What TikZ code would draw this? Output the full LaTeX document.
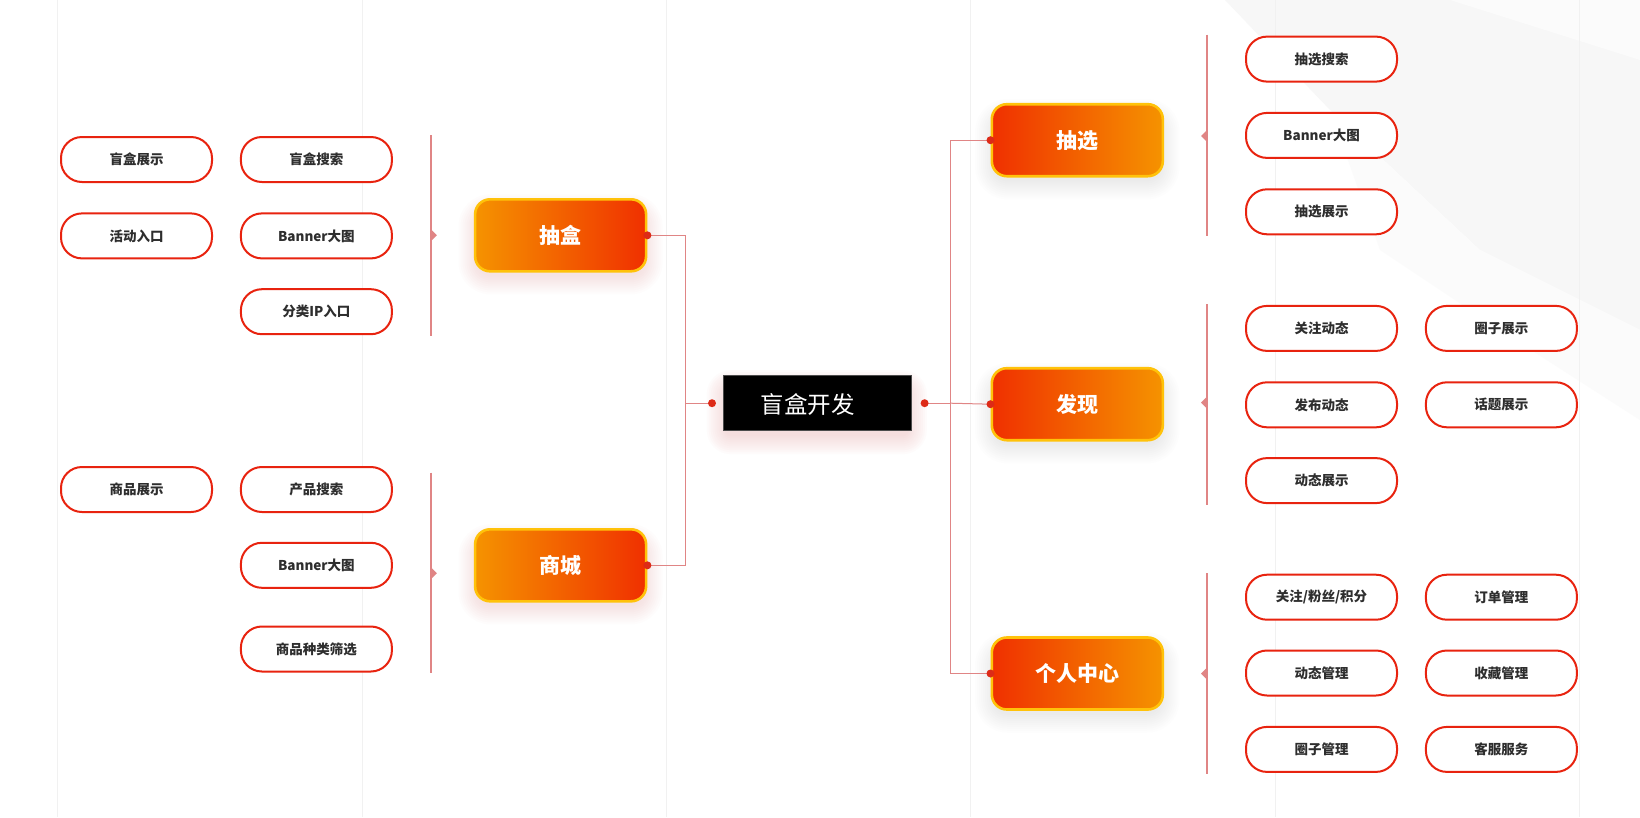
\documentclass[tikz,border=0pt]{standalone}
\usepackage{fontspec}
\setmainfont{Noto Sans CJK SC}
\usetikzlibrary{calc}
\definecolor{boxred}{HTML}{E8230F}
\definecolor{txtdark}{HTML}{2E2E2E}
\definecolor{connline}{HTML}{E08585}
\definecolor{dotred}{HTML}{DD2A17}
\definecolor{gradorange}{HTML}{F59300}
\definecolor{gradred}{HTML}{F03000}
\definecolor{goldedge}{HTML}{FFC20A}
\definecolor{gridgrey}{HTML}{F1F1F1}
\definecolor{glowpink}{HTML}{F3A0A0}
\definecolor{glowgrey}{HTML}{C0C0C0}
\definecolor{bgA}{HTML}{F7F7F7}
\definecolor{bgB}{HTML}{FBFBFB}
\tikzset{
  leaf/.style={draw=boxred, line width=2pt, fill=white, rounded corners=21pt,
    minimum width=151pt, minimum height=45pt, inner sep=0pt,
    font=\bfseries\fontsize{13.5}{16}\selectfont, text=txtdark},
  mainL/.style={draw=goldedge, line width=2.6pt, rounded corners=15pt,
    left color=gradorange, right color=gradred,
    minimum width=171pt, minimum height=72pt, inner sep=0pt,
    font=\bfseries\fontsize{21}{24}\selectfont, text=white},
  mainR/.style={mainL, left color=gradred, right color=gradorange},
  rootbox/.style={fill=black, draw=black!70, line width=0.6pt,
    minimum width=188pt, minimum height=55pt, inner sep=0pt},
  conn/.style={draw=connline, line width=1pt},
  vbar/.style={draw=connline, line width=1.2pt},
  tick/.style={fill=connline},
  dot/.style={fill=dotred},
}
\begin{document}
\begin{tikzpicture}[x=1pt,y=-1pt]
\useasboundingbox (0,0) rectangle (1640,817);
\fill[white] (0,0) rectangle (1640,817);
% faint background shapes (top right)
\fill[bgA] (1225,0) -- (1550,0) -- (1640,60) -- (1640,330) -- (1480,250) -- (1330,110) -- cycle;
\fill[bgB] (1450,0) -- (1640,0) -- (1640,60) -- cycle;
\fill[bgB] (1330,110) -- (1480,250) -- (1640,330) -- (1640,420) -- (1500,330) -- (1380,250) -- cycle;
% faint vertical grid lines
\foreach \gx in {57.5,361.9,666.2,970.6,1275,1579.3}
  \draw[gridgrey, line width=0.8pt] (\gx,0) -- (\gx,817);

% soft glows under main boxes
\foreach \cx/\cy/\gc in {560.6/235.3/glowpink, 560.6/565.3/glowpink, 1077.3/140.2/glowgrey, 1077.3/404.2/glowgrey, 1077.3/673.5/glowgrey}{
  \foreach \e in {2,4,...,20}
    \fill[\gc, opacity=0.028]
      (\cx-82-\e,\cy-30+9-\e) [rounded corners=12pt+\e] rectangle (\cx+82+\e,\cy+30+9+\e);
}
\foreach \e in {2,4,...,20}
  \fill[glowpink, opacity=0.035, rounded corners=4pt+\e]
    (816.8-90-\e,403.2-22+9-\e) rectangle (816.8+90+\e,403.2+22+9+\e);

% root
\node[rootbox] (root) at (816.8,403.2) {};
\node[font=\fontsize{23.5}{26}\selectfont, text=white, inner sep=0pt] (roottxt) at (807.5,404.5) {盲盒开发};

% main boxes
\node[mainL] (chouhe) at (560.6,235.3) {抽盒};
\node[mainL] (shangcheng) at (560.6,565.3) {商城};
\node[mainR] (chouxuan) at (1077.3,140.2) {抽选};
\node[mainR] (faxian) at (1077.3,404.2) {发现};
\node[mainR] (geren) at (1077.3,673.5) {个人中心};

% connector coordinates
\coordinate (cl) at ($(root.west)+(-10.5,0)$);
\coordinate (cr) at ($(root.east)+(13.5,0)$);
\coordinate (jl) at (685,403.2);
\coordinate (jr) at (950.7,403.2);

\draw[conn] (chouhe.east) -| (jl) |- (shangcheng.east);
\draw[conn] (cl) -- (jl);
\draw[conn] (cr) -- (jr);
\draw[conn] (chouxuan.west) -| (jr) |- (geren.west);
\draw[conn] (jr) -- (faxian.west);

\foreach \p in {chouhe.east, shangcheng.east, chouxuan.west, faxian.west, geren.west, cl, cr}
  \fill[dot] (\p) circle (4pt);

% left leaves
\node[leaf] (a1) at (136.5,159.5) {盲盒展示};
\node[leaf] (a2) at (136.5,235.9) {活动入口};
\node[leaf] (b1) at (316.4,159.5) {盲盒搜索};
\node[leaf] (b2) at (316.4,235.9) {Banner大图};
\node[leaf] (b3) at (316.4,311.7) {分类IP入口};
\node[leaf] (a4) at (136.5,489.5) {商品展示};
\node[leaf] (b4) at (316.4,489.5) {产品搜索};
\node[leaf] (b5) at (316.4,565.3) {Banner大图};
\node[leaf] (b6) at (316.4,649) {商品种类筛选};

% right leaves
\node[leaf] (c1) at (1321.5,59.1) {抽选搜索};
\node[leaf] (c2) at (1321.5,135.4) {Banner大图};
\node[leaf] (c3) at (1321.5,211.8) {抽选展示};
\node[leaf] (c4) at (1321.5,328.4) {关注动态};
\node[leaf] (d4) at (1501.4,328.4) {圈子展示};
\node[leaf] (c5) at (1321.5,404.8) {发布动态};
\node[leaf] (d5) at (1501.4,404.8) {话题展示};
\node[leaf] (c6) at (1321.5,480.6) {动态展示};
\node[leaf] (c7) at (1321.5,597.2) {关注/粉丝/积分};
\node[leaf] (d7) at (1501.4,597.2) {订单管理};
\node[leaf] (c8) at (1321.5,673) {动态管理};
\node[leaf] (d8) at (1501.4,673) {收藏管理};
\node[leaf] (c9) at (1321.5,749.4) {圈子管理};
\node[leaf] (d9) at (1501.4,749.4) {客服服务};

% bracket bars with ticks
\coordinate (vl1t) at (430.9,135); \coordinate (vl1b) at (430.9,335.7); \coordinate (vl1m) at (430.9,235.3);
\coordinate (vl2t) at (430.9,472.7); \coordinate (vl2b) at (430.9,672.5); \coordinate (vl2m) at (430.9,573.2);
\draw[vbar] (vl1t) -- (vl1b);
\draw[vbar] (vl2t) -- (vl2b);
\foreach \m in {vl1m, vl2m}
  \fill[tick] ($(\m)+(0,-6)$) -- ($(\m)+(6,0)$) -- ($(\m)+(0,6)$) -- cycle;

\coordinate (vr1t) at (1207,34.5); \coordinate (vr1b) at (1207,236.4); \coordinate (vr1m) at (1207,136);
\coordinate (vr2t) at (1207,304.4); \coordinate (vr2b) at (1207,505.2); \coordinate (vr2m) at (1207,402.7);
\coordinate (vr3t) at (1207,573.2); \coordinate (vr3b) at (1207,774); \coordinate (vr3m) at (1207,673.6);
\draw[vbar] (vr1t) -- (vr1b);
\draw[vbar] (vr2t) -- (vr2b);
\draw[vbar] (vr3t) -- (vr3b);
\foreach \m in {vr1m, vr2m, vr3m}
  \fill[tick] ($(\m)+(0,-6)$) -- ($(\m)+(-6,0)$) -- ($(\m)+(0,6)$) -- cycle;
\end{tikzpicture}
\end{document}
